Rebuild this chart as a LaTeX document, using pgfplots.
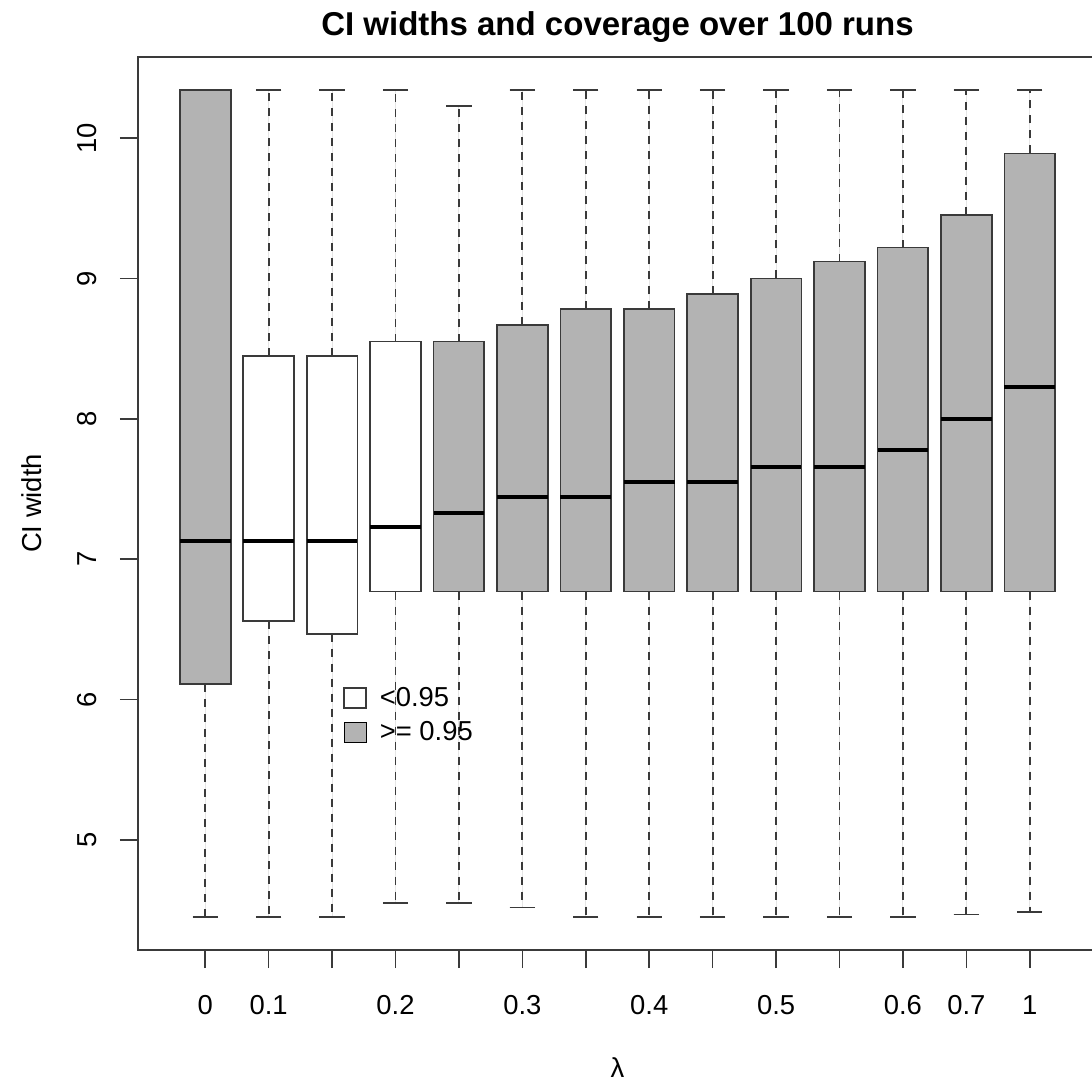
\documentclass[border=0pt]{standalone}
\usepackage{fontspec}
\setmainfont{Liberation Sans}
\usepackage{pgfplots}
\pgfplotsset{compat=1.18}
\usepgfplotslibrary{statistics}
\definecolor{boxgray}{HTML}{B3B3B3}
\definecolor{edge}{HTML}{3A3A3A}
\newcommand{\rfont}{\fontsize{13.7bp}{16bp}\selectfont}

\pgfplotsset{
  bp/.style={forget plot, draw=edge, line width=0.9bp, fill=#1,
    boxplot/draw direction=y,
    boxplot/box extend=0.8, boxplot/whisker extend=0.4,
    boxplot/every median/.style={black, line width=2bp},
    boxplot/draw/lower whisker/.code={
      \draw[edge, line width=0.9bp, dash pattern=on 4bp off 3.5bp]
        (boxplot whisker cs:\pgfplotsboxplotvalue{lower quartile},0.5) --
        (boxplot whisker cs:\pgfplotsboxplotvalue{lower whisker},0.5);
      \draw[edge, line width=0.9bp]
        (boxplot whisker cs:\pgfplotsboxplotvalue{lower whisker},0) --
        (boxplot whisker cs:\pgfplotsboxplotvalue{lower whisker},1);
    },
    boxplot/draw/upper whisker/.code={
      \draw[edge, line width=0.9bp, dash pattern=on 4bp off 3.5bp]
        (boxplot whisker cs:\pgfplotsboxplotvalue{upper quartile},0.5) --
        (boxplot whisker cs:\pgfplotsboxplotvalue{upper whisker},0.5);
      \draw[edge, line width=0.9bp]
        (boxplot whisker cs:\pgfplotsboxplotvalue{upper whisker},0) --
        (boxplot whisker cs:\pgfplotsboxplotvalue{upper whisker},1);
    }},
}

\begin{document}
\begin{tikzpicture}
\useasboundingbox (0,0) rectangle (546bp,541.5bp);
\begin{axis}[
  at={(69bp,66.5bp)}, anchor=south west,
  scale only axis, width=479.5bp, height=446.5bp,
  xmin=-0.06, xmax=15.06, ymin=4.217, ymax=10.577,
  axis line style={edge, line width=0.8bp},
  tick align=outside, major tick length=9bp,
  tick style={edge, line width=0.8bp},
  xtick={1,...,14},
  xticklabels={0,0.1,{},0.2,{},0.3,{},0.4,{},0.5,{},0.6,0.7,1},
  ytick={5,...,10}, yticklabels={5,6,7,8,9,10},
  xtick pos=bottom, ytick pos=left,
  ticklabel style={font=\rfont},
  xticklabel style={anchor=base, inner sep=0pt, yshift=-23bp},
  yticklabel style={xshift=-11.5bp, rotate=90, anchor=south, inner sep=0pt},
  title={CI widths and coverage over 100 runs},
  title style={font=\bfseries\fontsize{16.5bp}{19bp}\selectfont,
    at={(0.5,1)}, anchor=base, yshift=5bp},
  xlabel={λ},
  xlabel style={font=\rfont, at={(axis description cs:0.5,-0.1433)}, anchor=base},
  ylabel={CI width},
  ylabel style={font=\rfont, at={(axis description cs:-0.1105,0.5)}, anchor=center},
  legend style={at={(axis cs:3.17,6.12)}, anchor=north west, draw=none,
    fill=none, font=\rfont, inner sep=0pt, row sep=2bp},
  legend cell align=left,
  legend image code/.code={\draw[#1] (0bp,-5bp) rectangle (11bp,5bp);},
]
\addlegendimage{draw=edge, fill=white, line width=0.8bp}
\addlegendentry{\hspace{4.5bp}<0.95}
\addlegendimage{draw=none, fill=boxgray}
\addlegendentry{\hspace{4.5bp}>= 0.95}

\addplot[bp=boxgray, boxplot prepared={draw position=1, lower whisker=4.45, lower quartile=6.11, median=7.13, upper quartile=10.34, upper whisker=10.34}] coordinates {};
\addplot[bp=white, boxplot prepared={draw position=2, lower whisker=4.45, lower quartile=6.56, median=7.13, upper quartile=8.45, upper whisker=10.34}] coordinates {};
\addplot[bp=white, boxplot prepared={draw position=3, lower whisker=4.45, lower quartile=6.47, median=7.13, upper quartile=8.45, upper whisker=10.34}] coordinates {};
\addplot[bp=white, boxplot prepared={draw position=4, lower whisker=4.55, lower quartile=6.77, median=7.23, upper quartile=8.55, upper whisker=10.34}] coordinates {};
\addplot[bp=boxgray, boxplot prepared={draw position=5, lower whisker=4.55, lower quartile=6.77, median=7.33, upper quartile=8.55, upper whisker=10.23}] coordinates {};
\addplot[bp=boxgray, boxplot prepared={draw position=6, lower whisker=4.52, lower quartile=6.77, median=7.44, upper quartile=8.67, upper whisker=10.34}] coordinates {};
\addplot[bp=boxgray, boxplot prepared={draw position=7, lower whisker=4.45, lower quartile=6.77, median=7.44, upper quartile=8.78, upper whisker=10.34}] coordinates {};
\addplot[bp=boxgray, boxplot prepared={draw position=8, lower whisker=4.45, lower quartile=6.77, median=7.55, upper quartile=8.78, upper whisker=10.34}] coordinates {};
\addplot[bp=boxgray, boxplot prepared={draw position=9, lower whisker=4.45, lower quartile=6.77, median=7.55, upper quartile=8.89, upper whisker=10.34}] coordinates {};
\addplot[bp=boxgray, boxplot prepared={draw position=10, lower whisker=4.45, lower quartile=6.77, median=7.66, upper quartile=9.00, upper whisker=10.34}] coordinates {};
\addplot[bp=boxgray, boxplot prepared={draw position=11, lower whisker=4.45, lower quartile=6.77, median=7.66, upper quartile=9.12, upper whisker=10.34}] coordinates {};
\addplot[bp=boxgray, boxplot prepared={draw position=12, lower whisker=4.45, lower quartile=6.77, median=7.78, upper quartile=9.22, upper whisker=10.34}] coordinates {};
\addplot[bp=boxgray, boxplot prepared={draw position=13, lower whisker=4.47, lower quartile=6.77, median=8.00, upper quartile=9.45, upper whisker=10.34}] coordinates {};
\addplot[bp=boxgray, boxplot prepared={draw position=14, lower whisker=4.49, lower quartile=6.77, median=8.23, upper quartile=9.89, upper whisker=10.34}] coordinates {};
\end{axis}
\end{tikzpicture}
\end{document}
